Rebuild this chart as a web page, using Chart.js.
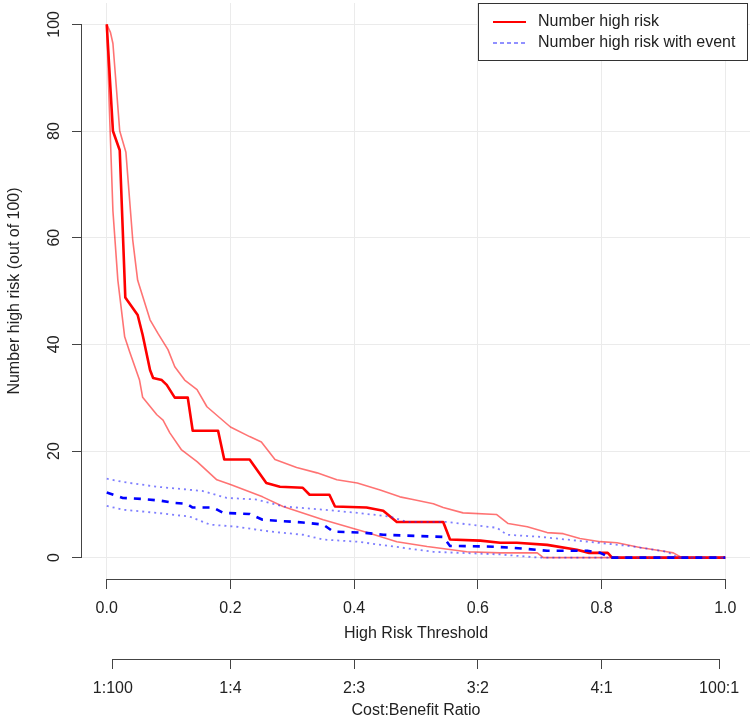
<!DOCTYPE html>
<html>
<head>
<meta charset="utf-8">
<script src="https://cdn.jsdelivr.net/npm/chart.js@4"></script>
<style>
body { margin: 0; background: #fff; }
#wrap { width: 752px; height: 720px; }
</style>
</head>
<body>
<div id="wrap"><canvas id="impactChart" width="752" height="720"></canvas></div>
<script>
// Number high risk (median + bounds)
const riskX = [0, 0.01, 0.021, 0.03, 0.05, 0.058, 0.07, 0.075, 0.089, 0.097, 0.11, 0.131, 0.139, 0.18, 0.19, 0.231, 0.258, 0.28, 0.317, 0.328, 0.36, 0.369, 0.42, 0.447, 0.469, 0.544, 0.555, 0.604, 0.636, 0.663, 0.712, 0.76, 0.78, 0.81, 0.817, 1.0];
const riskY = [100, 80, 76.4, 48.8, 45.5, 41.8, 35.2, 33.7, 33.3, 32.4, 30, 30, 23.8, 23.8, 18.4, 18.4, 14, 13.3, 13.1, 11.8, 11.8, 9.6, 9.4, 8.8, 6.7, 6.7, 3.4, 3.2, 2.8, 2.8, 2.4, 1.5, 0.9, 0.9, 0, 0];

const riskHiX = [0, 0.006, 0.01, 0.021, 0.031, 0.042, 0.05, 0.06, 0.07, 0.083, 0.099, 0.11, 0.126, 0.146, 0.162, 0.2, 0.231, 0.25, 0.272, 0.307, 0.34, 0.372, 0.405, 0.442, 0.474, 0.495, 0.528, 0.544, 0.576, 0.63, 0.649, 0.68, 0.712, 0.738, 0.765, 0.798, 0.825, 0.862, 0.906, 0.916, 0.93, 1.0];
const riskHiY = [100, 98.5, 96.4, 80, 76, 59.6, 52, 48.3, 44.6, 42, 39, 35.8, 33.3, 31.5, 28.3, 24.5, 22.7, 21.7, 18.4, 16.9, 15.9, 14.6, 14, 12.7, 11.4, 10.9, 10.1, 9.4, 8.4, 8.1, 6.4, 5.8, 4.7, 4.5, 3.6, 3, 2.8, 1.9, 1.1, 0.9, 0, 0];

const riskLoX = [0, 0.004, 0.01, 0.018, 0.029, 0.037, 0.053, 0.058, 0.081, 0.091, 0.102, 0.121, 0.146, 0.178, 0.2, 0.252, 0.285, 0.35, 0.421, 0.469, 0.518, 0.582, 0.636, 0.696, 0.706, 1.0];
const riskLoY = [100, 85, 65, 52, 41.4, 38.6, 33.3, 30.1, 26.8, 25.8, 23.4, 20.2, 18, 14.6, 13.7, 11.4, 9.6, 7.1, 4.7, 3.0, 2.1, 1.1, 0.9, 0.9, 0, 0];

// Number high risk with event (median + bounds)
const eventX = [0, 0.026, 0.058, 0.086, 0.107, 0.129, 0.139, 0.172, 0.188, 0.231, 0.252, 0.317, 0.35, 0.366, 0.414, 0.447, 0.544, 0.555, 0.615, 0.652, 0.712, 0.777, 0.798, 0.814, 1.0];
const eventY = [12.2, 11.2, 11, 10.7, 10.3, 10.1, 9.4, 9.4, 8.4, 8.2, 7.1, 6.6, 6.2, 4.9, 4.7, 4.3, 3.9, 2.2, 2.1, 1.9, 1.3, 1.3, 0.9, 0, 0];

const eventHiX = [0, 0.026, 0.081, 0.155, 0.194, 0.243, 0.285, 0.35, 0.405, 0.458, 0.485, 0.55, 0.631, 0.647, 0.701, 0.777, 0.851, 0.906, 0.924, 1.0];
const eventHiY = [14.8, 14.2, 13.3, 12.5, 11.2, 10.9, 9.6, 9, 8.4, 7.7, 6.7, 6.7, 5.6, 4.3, 3.9, 3, 2.1, 1.1, 0, 0];

const eventLoX = [0, 0.026, 0.081, 0.134, 0.167, 0.21, 0.264, 0.317, 0.35, 0.405, 0.463, 0.528, 0.636, 0.7, 1.0];
const eventLoY = [9.7, 9, 8.4, 7.7, 6.2, 5.8, 4.9, 4.3, 3.4, 3, 2.1, 1.1, 0.6, 0, 0];

// axes
const thresholdTicks = [0, 0.2, 0.4, 0.6, 0.8, 1.0];
const yTicks = [0, 20, 40, 60, 80, 100];
const costTicks = [1 / 101, 0.2, 0.4, 0.6, 0.8, 100 / 101];
const costLabels = ['1:100', '1:4', '2:3', '3:2', '4:1', '100:1'];
const legendLabels = ['Number high risk', 'Number high risk with event'];

const FONT = "'Liberation Sans', Arial, sans-serif";
const textColor = '#222';
const axisColor = '#444';
const gridColor = '#ebebeb';
const font16 = { family: FONT, size: 16 };

function pts(xs, ys) {
    return xs.map((x, i) => ({ x: x, y: ys[i] }));
}

function series(label, xs, ys, color, width, dash, order) {
    return {
        label: label,
        data: pts(xs, ys),
        borderColor: color,
        borderWidth: width,
        borderDash: dash,
        pointRadius: 0,
        tension: 0,
        fill: false,
        borderJoinStyle: 'round',
        order: order
    };
}

// R style axes: line only from first to last tick, rotated y labels, boxed legend
const rStyle = {
    id: 'rStyle',
    afterDraw(chart) {
        const ctx = chart.ctx;
        const x = chart.scales.x, x2 = chart.scales.x2, y = chart.scales.y;
        ctx.save();
        ctx.strokeStyle = axisColor;
        ctx.lineWidth = 1;
        ctx.beginPath();
        ctx.moveTo(x.getPixelForValue(0), x.top + 0.5);
        ctx.lineTo(x.getPixelForValue(1), x.top + 0.5);
        ctx.moveTo(x2.getPixelForValue(costTicks[0]), x2.top + 0.5);
        ctx.lineTo(x2.getPixelForValue(costTicks[costTicks.length - 1]), x2.top + 0.5);
        ctx.moveTo(y.right - 0.5, y.getPixelForValue(0));
        ctx.lineTo(y.right - 0.5, y.getPixelForValue(100));
        ctx.stroke();

        ctx.fillStyle = textColor;
        ctx.font = '16px ' + FONT;
        ctx.textAlign = 'center';
        ctx.textBaseline = 'middle';
        yTicks.forEach(v => {
            ctx.save();
            ctx.translate(55, y.getPixelForValue(v));
            ctx.rotate(-Math.PI / 2);
            ctx.fillText(String(v), 0, 0);
            ctx.restore();
        });

        // legend
        const bx = 478.5, by = 3.5, bw = 269, bh = 57;
        ctx.fillStyle = '#fff';
        ctx.fillRect(bx, by, bw, bh);
        ctx.strokeStyle = '#333';
        ctx.strokeRect(bx, by, bw, bh);
        const rows = [22, 43];
        const styles = [
            { color: '#ff0000', width: 2, dash: [] },
            { color: '#2222ff', width: 1, dash: [4, 3] }
        ];
        legendLabels.forEach((lab, i) => {
            ctx.beginPath();
            ctx.strokeStyle = styles[i].color;
            ctx.lineWidth = styles[i].width;
            ctx.setLineDash(styles[i].dash);
            ctx.moveTo(493, rows[i]);
            ctx.lineTo(526, rows[i]);
            ctx.stroke();
            ctx.setLineDash([]);
            ctx.fillStyle = textColor;
            ctx.textAlign = 'left';
            ctx.fillText(lab, 538, rows[i]);
        });
        ctx.restore();
    }
};

new Chart(document.getElementById('impactChart'), {
    type: 'line',
    data: {
        datasets: [
            series('Number high risk', riskX, riskY, '#ff0000', 2.6, [], 1),
            series('upper', riskHiX, riskHiY, 'rgba(255,0,0,0.55)', 1.6, [], 1),
            series('lower', riskLoX, riskLoY, 'rgba(255,0,0,0.55)', 1.6, [], 1),
            series('Number high risk with event', eventX, eventY, '#0000ff', 2.6, [7, 7], 0),
            series('event upper', eventHiX, eventHiY, 'rgba(40,40,255,0.6)', 1.8, [2, 4], 0),
            series('event lower', eventLoX, eventLoY, 'rgba(40,40,255,0.6)', 1.8, [2, 4], 0)
        ]
    },
    options: {
        responsive: false,
        animation: false,
        layout: { padding: { top: 3, right: 2, left: 0, bottom: 0 } },
        plugins: {
            legend: { display: false },
            tooltip: { enabled: false }
        },
        scales: {
            x: {
                type: 'linear',
                position: 'bottom',
                weight: 0,
                min: -0.04,
                max: 1.04,
                afterBuildTicks: s => { s.ticks = thresholdTicks.map(v => ({ value: v })); },
                afterFit: s => { s.height = 80; s.paddingLeft = 0; s.paddingRight = 0; },
                border: { display: false },
                grid: { color: gridColor, tickColor: axisColor, tickLength: 10 },
                ticks: {
                    color: textColor, font: font16, padding: 10, maxRotation: 0, autoSkip: false,
                    callback: v => Number(v).toFixed(1)
                },
                title: { display: true, text: 'High Risk Threshold', color: textColor, font: font16, padding: { top: 0, bottom: 16 } }
            },
            x2: {
                type: 'linear',
                position: 'bottom',
                weight: 1,
                min: -0.04,
                max: 1.04,
                afterBuildTicks: s => { s.ticks = costTicks.map(v => ({ value: v })); },
                afterFit: s => { s.height = 61; s.paddingLeft = 0; s.paddingRight = 0; },
                border: { display: false },
                grid: { drawOnChartArea: false, tickColor: axisColor, tickLength: 10 },
                ticks: {
                    color: textColor, font: font16, padding: 10, maxRotation: 0, autoSkip: false,
                    callback: (v, i) => costLabels[i]
                },
                title: { display: true, text: 'Cost:Benefit Ratio', color: textColor, font: font16, padding: { top: 0, bottom: 0 } }
            },
            y: {
                type: 'linear',
                min: -4,
                max: 104,
                afterBuildTicks: s => { s.ticks = yTicks.map(v => ({ value: v })); },
                afterFit: s => { s.width = 82; s.paddingTop = 0; s.paddingBottom = 0; },
                border: { display: false },
                grid: { color: gridColor, tickColor: axisColor, tickLength: 10 },
                ticks: { display: false },
                title: { display: true, text: 'Number high risk (out of 100)', color: textColor, font: font16, padding: { top: 5, bottom: 0 } }
            }
        }
    },
    plugins: [rStyle]
});
</script>
</body>
</html>
